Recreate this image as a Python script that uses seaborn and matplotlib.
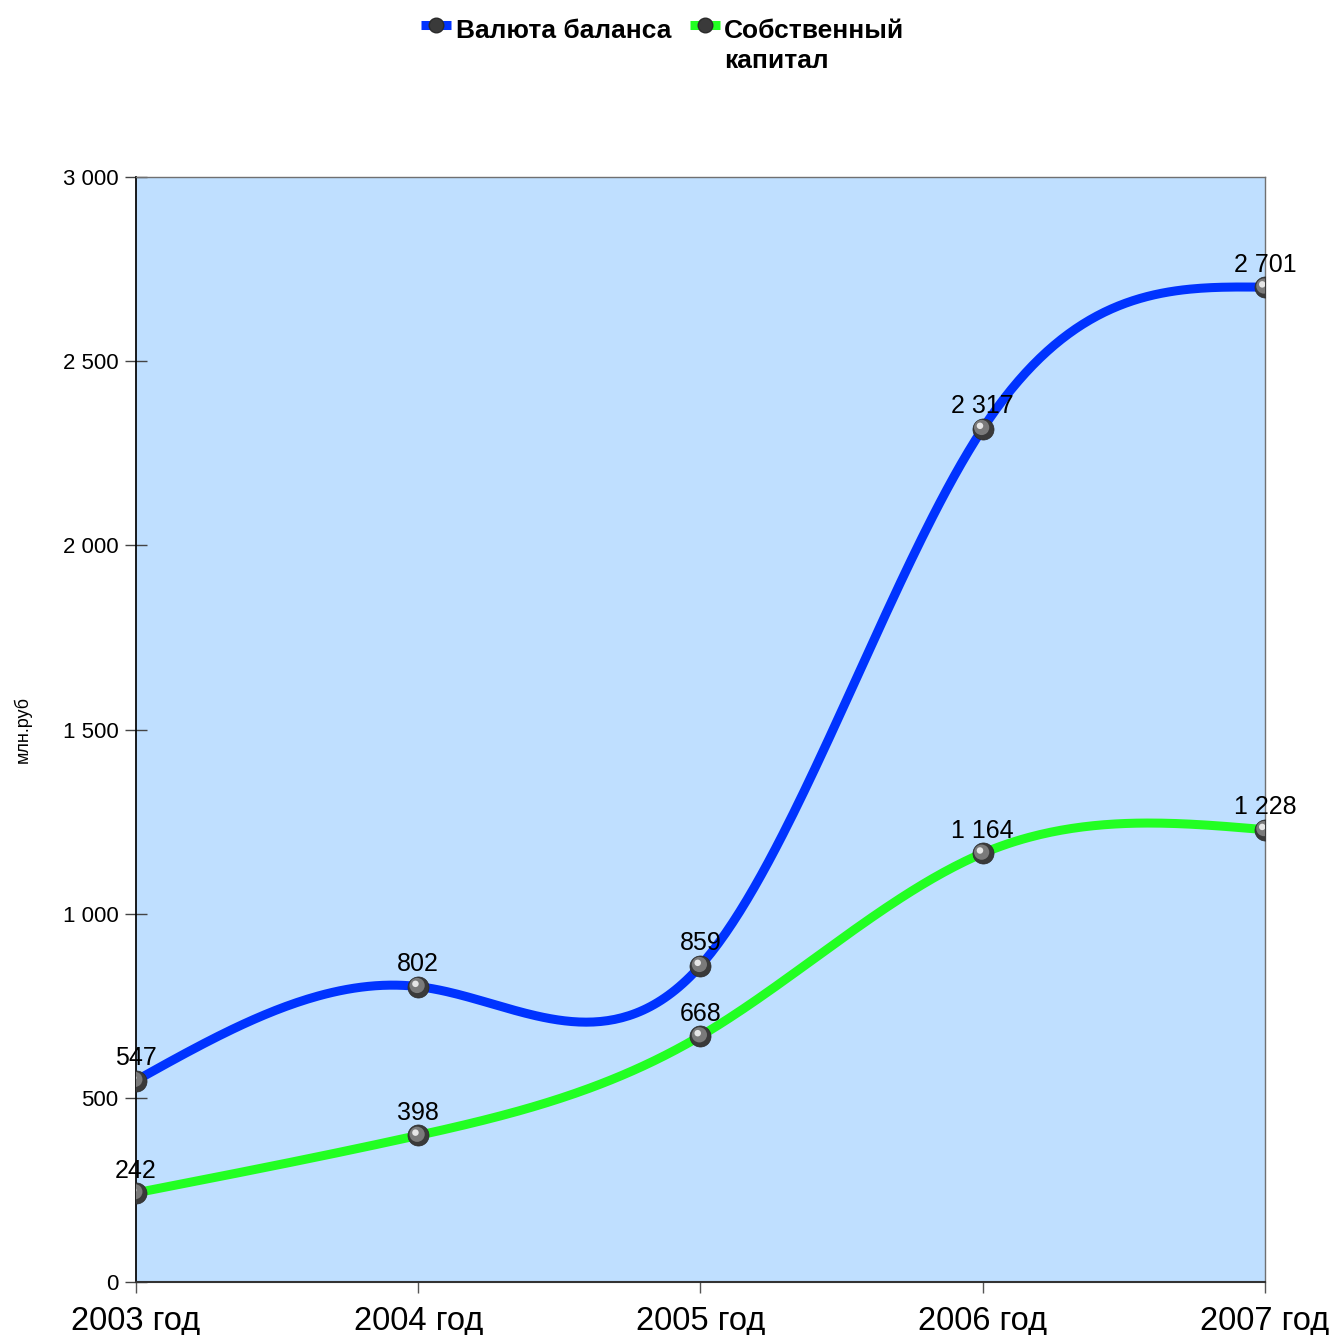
"""Balance sheet total vs equity, 2003-2007 (smoothed lines)."""

import matplotlib.pyplot as plt
import matplotlib.transforms as mtransforms
import numpy as np
import pandas as pd
import seaborn as sns
from matplotlib.lines import Line2D
from matplotlib.ticker import FuncFormatter

years = ["2003 год", "2004 год", "2005 год", "2006 год", "2007 год"]
balance_total = [547, 802, 859, 2317, 2701]
equity = [242, 398, 668, 1164, 1228]
series_names = ["Валюта баланса", "Собственный\nкапитал"]
series_colors = ["#0033FF", "#22FF22"]
y_ticks = [0, 500, 1000, 1500, 2000, 2500, 3000]


def natural_spline(xs, ys, steps=80):
    """Natural cubic spline through the points (used only to draw the smooth line)."""
    xs = np.asarray(xs, float)
    ys = np.asarray(ys, float)
    n = len(xs)
    h = np.diff(xs)
    a = np.zeros((n, n))
    b = np.zeros(n)
    a[0, 0] = a[-1, -1] = 1.0
    for i in range(1, n - 1):
        a[i, i - 1] = h[i - 1]
        a[i, i] = 2 * (h[i - 1] + h[i])
        a[i, i + 1] = h[i]
        b[i] = 6 * ((ys[i + 1] - ys[i]) / h[i] - (ys[i] - ys[i - 1]) / h[i - 1])
    m = np.linalg.solve(a, b)
    out_x, out_y = [], []
    for i in range(n - 1):
        t = np.linspace(0, 1, steps)
        hi = h[i]
        yy = (1 - t) * ys[i] + t * ys[i + 1] \
            - hi ** 2 * t * (1 - t) / 6 * ((2 - t) * m[i] + (1 + t) * m[i + 1])
        out_x.extend(xs[i] + t * hi)
        out_y.extend(yy)
    return np.array(out_x), np.array(out_y)


sns.set_theme(style="white")
plt.rcParams["font.family"] = ["Liberation Sans", "DejaVu Sans"]
plt.rcParams["text.color"] = "black"
plt.rcParams["axes.labelcolor"] = "black"
plt.rcParams["xtick.labelcolor"] = "black"
plt.rcParams["ytick.labelcolor"] = "black"

df = pd.DataFrame({
    "x": list(range(len(years))) * 2,
    "value": balance_total + equity,
    "series": [series_names[0]] * len(years) + [series_names[1]] * len(years),
})

fig = plt.figure(figsize=(13.33, 13.35), dpi=100)
ax = fig.add_axes([0.102, 0.0397, 0.847, 0.8277])
ax.set_facecolor("#BFDFFF")

for name, color in zip(series_names, series_colors):
    sub = df[df["series"] == name]
    sx, sy = natural_spline(sub["x"].values, sub["value"].values)
    ax.plot(sx, sy, color=color, lw=6.5, solid_capstyle="butt", zorder=3)

# sphere-like markers: dark body, lighter core, small highlight
sns.scatterplot(data=df, x="x", y="value", s=230, color="#3a3a3a",
                edgecolor="#2a2a2a", linewidth=0.5, ax=ax, zorder=4, legend=False)
mid = mtransforms.offset_copy(ax.transData, fig=fig, x=-0.8, y=0.8, units="points")
ax.scatter(df["x"], df["value"], s=120, color="#7a7a7a", edgecolor="none",
           transform=mid, zorder=5)
hl = mtransforms.offset_copy(ax.transData, fig=fig, x=-2.0, y=2.0, units="points")
ax.scatter(df["x"], df["value"], s=22, color="#e6e6e6", edgecolor="none",
           transform=hl, zorder=6)

for xv, val in zip(df["x"], df["value"]):
    label = f"{val:,}".replace(",", " ")
    ax.annotate(label, (xv, val), xytext=(0, 11), textcoords="offset points",
                ha="center", va="baseline", fontsize=18, color="black", zorder=7)

ax.set_xlim(0, len(years) - 1)
ax.set_ylim(0, 3000)
ax.set_xticks(range(len(years)))
ax.set_xticklabels(years, fontsize=23.5)
ax.set_yticks(y_ticks)
ax.yaxis.set_major_formatter(FuncFormatter(lambda v, _: f"{int(v):,}".replace(",", " ")))
ax.tick_params(axis="y", labelsize=16, length=16.5, width=1, color="#444444",
               direction="inout", left=True, pad=4.5, labelcolor="black")
ax.tick_params(axis="x", length=8, width=1, color="#555555", direction="out",
               bottom=True, pad=9, labelcolor="black")
ax.set_xlabel("")
ax.set_ylabel("млн.руб", fontsize=13, color="black")
ax.yaxis.set_label_coords(-0.092, 0.5)

ax.spines["left"].set_color("black")
ax.spines["bottom"].set_color("#333333")
ax.spines["bottom"].set_linewidth(1.5)
for side in ["top", "right"]:
    ax.spines[side].set_color("#707070")
    ax.spines[side].set_linewidth(1)

# legend drawn by hand so the single-line label aligns with the first line
fig_h = 1335.0
fig_w = 1333.0
legend_items = [(421, 456), (690, 724)]
for (hx, tx), name, color in zip(legend_items, series_names, series_colors):
    yl = 1 - 25 / fig_h
    fig.add_artist(Line2D([hx / fig_w, (hx + 30) / fig_w], [yl, yl], color=color,
                          lw=6.5, solid_capstyle="butt", transform=fig.transFigure))
    fig.add_artist(Line2D([(hx + 15) / fig_w], [yl], marker="o", markersize=10.5,
                          markerfacecolor="#3a3a3a", markeredgecolor="#2a2a2a",
                          transform=fig.transFigure))
    fig.text(tx / fig_w, 1 - 19 / fig_h, name, ha="left", va="top", color="black",
             fontsize=19, fontweight="bold", linespacing=1.3)

fig.savefig("out.png", dpi=100)
